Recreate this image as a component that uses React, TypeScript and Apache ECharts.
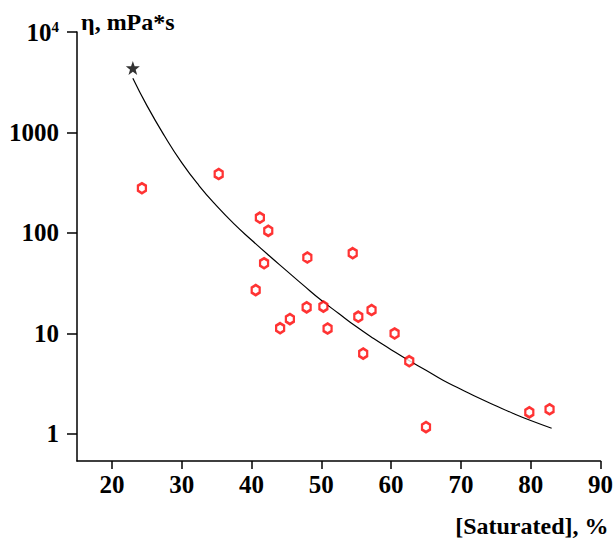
import React, { useEffect, useRef } from "react";
import * as echarts from "echarts";

// Scatter points: [Saturated, %] vs viscosity (mPa*s)
const pointsX = [24.3, 35.3, 41.2, 42.4, 48.0, 41.8, 40.6, 47.9, 45.5, 44.1, 54.5, 50.3, 50.9, 55.3, 57.2, 60.5, 56.0, 62.6, 65.0, 79.8, 82.7];
const pointsY = [279, 386, 142, 105, 57, 50, 27, 18.2, 13.9, 11.3, 63, 18.5, 11.2, 14.7, 17.1, 10.0, 6.3, 5.3, 1.17, 1.64, 1.76];

// Reference point (star)
const starX = [23];
const starY = [4390];

// Fitted curve
const curveX = [23, 25, 27.5, 30, 32.5, 35, 37.5, 40, 42.5, 45, 47.5, 50, 52.5, 55, 57.5, 60, 62.5, 65, 67.5, 70, 72.5, 75, 77.5, 80, 83];
const curveY = [3467, 1862, 933, 501, 295, 186, 123, 85.1, 59.6, 42.2, 29.9, 21.4, 15.8, 11.7, 8.9, 6.9, 5.4, 4.3, 3.4, 2.79, 2.29, 1.91, 1.6, 1.36, 1.14];

const xTicks = [20, 30, 40, 50, 60, 70, 80, 90];
const yTicks = [1, 10, 100, 1000, 10000];

const FONT = "Liberation Serif";
const HEX = "path://M0,-1 L0.866,-0.5 L0.866,0.5 L0,1 L-0.866,0.5 L-0.866,-0.5 Z";
const STAR = "path://M12,0 L14.9,8.1 L23.4,8.3 L16.6,13.5 L19.1,21.7 L12,16.8 L4.9,21.7 L7.4,13.5 L0.6,8.3 L9.1,8.1 Z";

export default function App() {
  const ref = useRef<HTMLDivElement>(null);
  useEffect(() => {
    if (!ref.current) return;
    const chart = echarts.init(ref.current, undefined, { renderer: "svg" });
    chart.setOption({
      animation: false,
      backgroundColor: "#fff",
      textStyle: { fontFamily: FONT },
      grid: { left: 77, right: 14, top: 32, bottom: 78, containLabel: false },
      xAxis: {
        type: "value",
        min: 15,
        max: 90,
        name: "[Saturated], %",
        nameLocation: "end",
        nameGap: 0,
        nameTextStyle: {
          fontFamily: FONT,
          fontWeight: "bold",
          fontSize: 24,
          color: "#000",
          align: "right",
          verticalAlign: "top",
          padding: [53, -8, 0, 0],
        },
        axisLine: { show: true, lineStyle: { color: "#000", width: 1.5 } },
        axisTick: { show: true, length: 8, lineStyle: { color: "#000", width: 1.5 }, customValues: xTicks },
        axisLabel: {
          customValues: xTicks,
          margin: 11,
          fontFamily: FONT,
          fontWeight: "bold",
          fontSize: 25,
          color: "#000",
        },
        splitLine: { show: false },
      },
      yAxis: {
        type: "log",
        logBase: 10,
        min: 0.538,
        max: 10000,
        name: "η, mPa*s",
        nameLocation: "end",
        nameGap: 6,
        nameTextStyle: {
          fontFamily: FONT,
          fontWeight: "bold",
          fontSize: 24,
          color: "#000",
          align: "left",
          verticalAlign: "bottom",
          padding: [0, 0, -8, 4],
        },
        axisLine: { show: true, lineStyle: { color: "#000", width: 1.5 } },
        axisTick: { show: true, length: 10, lineStyle: { color: "#000", width: 1.5 }, customValues: yTicks },
        axisLabel: {
          customValues: yTicks,
          margin: 18,
          fontFamily: FONT,
          fontWeight: "bold",
          fontSize: 25,
          color: "#000",
          formatter: (v: number) => (v >= 9999 ? "{b|10}{s|4}" : "{b|" + String(Math.round(v)) + "}"),
          rich: {
            b: { fontFamily: FONT, fontWeight: "bold", fontSize: 25, color: "#000" },
            s: { fontFamily: FONT, fontWeight: "bold", fontSize: 15, color: "#000", verticalAlign: "top", padding: [0, 0, 10, 0] },
          },
        },
        splitLine: { show: false },
      },
      series: [
        {
          type: "line",
          data: curveX.map((x, i) => [x, curveY[i]]),
          smooth: true,
          showSymbol: false,
          symbol: "none",
          lineStyle: { color: "#000", width: 1.2 },
          z: 2,
        },
        {
          type: "scatter",
          data: pointsX.map((x, i) => [x, pointsY[i]]),
          symbol: HEX,
          symbolSize: [8, 10],
          itemStyle: { color: "#fff", borderColor: "#ff0000", borderWidth: 2.5 },
          z: 3,
        },
        {
          type: "scatter",
          data: starX.map((x, i) => [x, starY[i]]),
          symbol: STAR,
          symbolSize: 14,
          itemStyle: { color: "#000" },
          z: 4,
        },
      ],
    });
    return () => chart.dispose();
  }, []);
  return <div ref={ref} style={{ width: 616, height: 539, position: "absolute", left: 0, top: 0 }} />;
}
